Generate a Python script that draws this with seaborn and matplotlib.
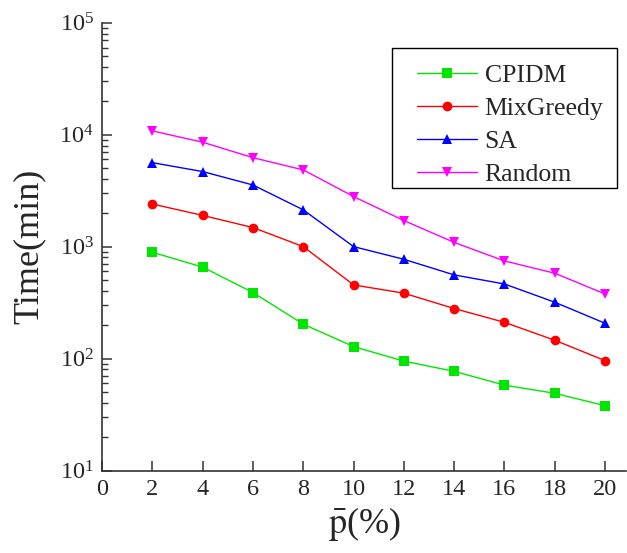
import matplotlib
matplotlib.use("Agg")
import matplotlib.pyplot as plt
import seaborn as sns
import numpy as np
import pandas as pd
from matplotlib.ticker import LogLocator, FixedLocator
from matplotlib.patches import Rectangle

p_values = [2, 4, 6, 8, 10, 12, 14, 16, 18, 20]
cpidm = [890, 656, 389, 203, 128, 95, 77, 58, 49, 38]
mixgreedy = [2400, 1900, 1480, 1000, 455, 384, 280, 211, 146, 96]
sa = [5620, 4680, 3550, 2130, 1000, 771, 559, 464, 319, 207]
random_ = [10800, 8550, 6230, 4840, 2800, 1710, 1090, 745, 579, 378]

series_names = ["CPIDM", "MixGreedy", "SA", "Random"]
series_values = [cpidm, mixgreedy, sa, random_]
colors = ["#00e600", "#ff0000", "#0000ff", "#ff00ff"]
markers = ["s", "o", "^", "v"]
x_ticks = [0, 2, 4, 6, 8, 10, 12, 14, 16, 18, 20]

sns.set_style("ticks")
plt.rcParams["font.family"] = ["Liberation Serif", "DejaVu Serif"]
plt.rcParams["mathtext.fontset"] = "stix"

fig = plt.figure(figsize=(6.27, 5.53), dpi=100)
ax = fig.add_axes([0.163, 0.149, 0.836, 0.81])

for name, vals, c, m in zip(series_names, series_values, colors, markers):
    df = pd.DataFrame({"p": p_values, "t": vals})
    sns.lineplot(data=df, x="p", y="t", ax=ax, color=c, marker=m,
                 markersize=7, markeredgewidth=0, linewidth=1.0, label=name)

ax.set_yscale("log")
ax.set_ylim(10, 1e5)
ax.set_xlim(0, 20.85)
ax.xaxis.set_major_locator(FixedLocator(x_ticks))
ax.yaxis.set_major_locator(LogLocator(base=10, numticks=10))
ax.yaxis.set_minor_locator(LogLocator(base=10, subs=np.arange(2, 10), numticks=20))

for s in ["top", "right"]:
    ax.spines[s].set_visible(False)
for s in ["left", "bottom"]:
    ax.spines[s].set_color("#333333")
    ax.spines[s].set_linewidth(1.2)

ax.tick_params(axis="both", which="major", direction="in", length=7, width=1.1,
               labelsize=17.5, color="#333333", pad=6)
ax.tick_params(axis="y", which="minor", direction="in", length=4, width=1.0,
               color="#333333")
ax.tick_params(axis="x", which="minor", bottom=False)

ax.set_xlabel(r"$\bar{\mathrm{p}}$(%)", fontsize=26, labelpad=4)
ax.set_ylabel("Time(min)", fontsize=26, labelpad=10)

leg = ax.legend(loc="upper left", bbox_to_anchor=(0.6005, 0.907), fontsize=18.5,
                frameon=False, handlelength=2.33, labelspacing=0.38,
                borderpad=0, handletextpad=0.3, borderaxespad=0)

# legend frame box
fig.patches.append(Rectangle((0.625, 0.660), 0.359, 0.253, transform=fig.transFigure,
                             fill=False, edgecolor="black", linewidth=1.0, zorder=5))

fig.savefig("out.png", dpi=100)
